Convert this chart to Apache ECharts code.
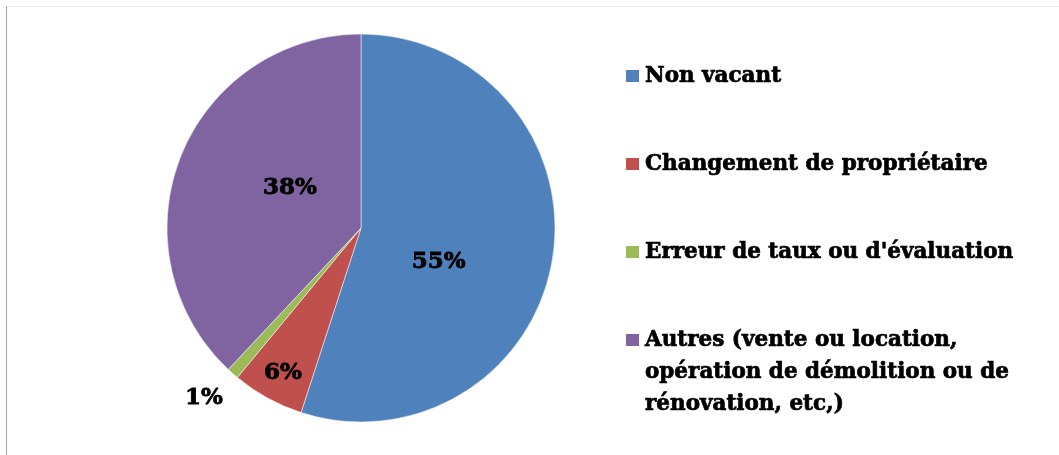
<!DOCTYPE html>
<html>
<head>
<meta charset="utf-8">
<script src="https://cdn.jsdelivr.net/npm/echarts@6/dist/echarts.min.js"></script>
<style>
  html, body { margin: 0; padding: 0; background: #fff; }
  #chart { width: 1059px; height: 455px; }
</style>
</head>
<body>
<div id="chart"></div>
<script>
// Répartition des motifs (en %)
const categories = [
  'Non vacant',
  'Changement de propriétaire',
  "Erreur de taux ou d'évaluation",
  'Autres (vente ou location,\nopération de démolition ou de\nrénovation, etc,)'
];
const values = [55, 6, 1, 38];
const colors = ['#4F81BD', '#C0504D', '#9BBB59', '#8064A2'];

// Décalage de chaque étiquette par rapport à sa position intérieure
const labelOffsets = [[-21, 18], [-30, 57], [-91, 95], [22, -3]];

const FONT = '"DejaVu Serif", "Liberation Serif", serif';

const chart = echarts.init(document.getElementById('chart'), null, { renderer: 'canvas' });

const pieData = categories.map((name, i) => ({
  name: name,
  value: values[i],
  itemStyle: { color: colors[i] },
  label: { offset: labelOffsets[i] }
}));

const legendCommon = {
  orient: 'vertical',
  left: 624,
  padding: 0,
  icon: 'rect',
  itemWidth: 15,
  itemHeight: 14,
  selectedMode: false,
  textStyle: {
    fontFamily: FONT,
    fontWeight: 'bold',
    fontSize: 21.5,
    color: '#000',
    lineHeight: 32,
    textBorderColor: '#000',
    textBorderWidth: 0.7
  }
};

chart.setOption({
  animation: false,
  backgroundColor: '#fff',
  graphic: [
    { type: 'rect', shape: { x: 6, y: 6, width: 1053, height: 1 }, style: { fill: '#efefef' }, silent: true },
    { type: 'rect', shape: { x: 6, y: 6, width: 1, height: 449 }, style: { fill: '#a6a6a6' }, silent: true }
  ],
  legend: [
    Object.assign({}, legendCommon, {
      top: 60,
      itemGap: 56,
      data: categories.slice(0, 3)
    }),
    Object.assign({}, legendCommon, {
      top: 260,
      data: categories.slice(3),
      // deux lignes vides en tête : la première ligne du texte reste alignée sur le carré
      formatter: name => '\n\n' + name
    })
  ],
  series: [{
    type: 'pie',
    center: [361, 228],
    radius: 194,
    startAngle: 90,
    clockwise: true,
    avoidLabelOverlap: false,
    emphasis: { disabled: true },
    itemStyle: { borderColor: '#fff', borderWidth: 0.5 },
    label: {
      show: true,
      position: 'inside',
      formatter: '{c}%',
      fontFamily: FONT,
      fontWeight: 'bold',
      fontSize: 23,
      color: '#000',
      textBorderColor: '#000',
      textBorderWidth: 0.8
    },
    labelLine: { show: false },
    data: pieData
  }]
});
</script>
</body>
</html>
